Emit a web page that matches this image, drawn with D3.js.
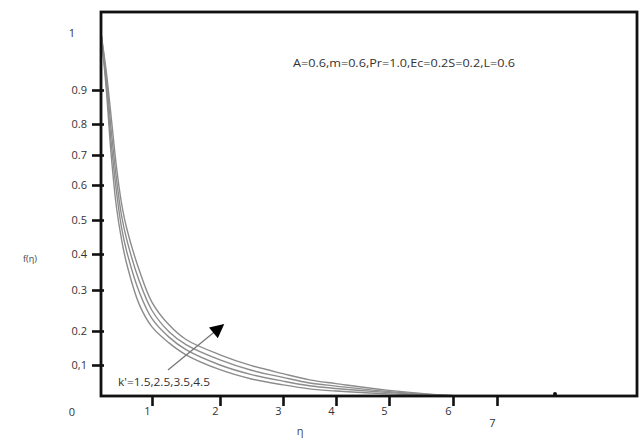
<!DOCTYPE html>
<html>
<head>
<meta charset="utf-8">
<script src="https://cdn.jsdelivr.net/npm/d3@7"></script>
<style>
  body { margin: 0; background: #fff; }
  .axis text { font-family: "Open Sans", sans-serif; fill: #333; }
  .axis line { stroke: #111; stroke-width: 2.6; }
</style>
</head>
<body>
<div class="chart"></div>
<script>
// values
const eta = [0, 0.1, 0.2, 0.3, 0.4, 0.5, 0.75, 1, 1.25, 1.5, 2, 2.5, 3, 3.5, 4, 5, 6, 6.5];
const kValues = [1.5, 2.5, 3.5, 4.5];
const f_k15 = [1, 0.905, 0.70, 0.54, 0.445, 0.375, 0.265, 0.21, 0.165, 0.13, 0.085, 0.055, 0.036, 0.023, 0.016, 0.007, 0.001, 0];
const f_k25 = [1, 0.915, 0.74, 0.585, 0.48, 0.41, 0.295, 0.23, 0.182, 0.145, 0.10, 0.069, 0.048, 0.033, 0.024, 0.011, 0.001, 0];
const f_k35 = [1, 0.925, 0.78, 0.625, 0.515, 0.445, 0.325, 0.25, 0.198, 0.16, 0.115, 0.083, 0.06, 0.042, 0.032, 0.014, 0.001, 0];
const f_k45 = [1, 0.935, 0.82, 0.665, 0.55, 0.478, 0.355, 0.27, 0.215, 0.175, 0.13, 0.098, 0.072, 0.052, 0.04, 0.018, 0.001, 0];
const series = [f_k15, f_k25, f_k35, f_k45];

const xTicks = [1, 2, 3, 4, 5, 6, 7];
const yTicks = [0.1, 0.2, 0.3, 0.4, 0.5, 0.6, 0.7, 0.8, 0.9];
const paramText = "A=0.6,m=0.6,Pr=1.0,Ec=0.2S=0.2,L=0.6";
const kText = "k'=1.5,2.5,3.5,4.5";

// margin convention
const margin = ({top: 12, right: 7, bottom: 42, left: 101});
const width = 644 - margin.left - margin.right;
const height = 438 - margin.top - margin.bottom;

const svg = d3.select(".chart")
    .append("svg")
    .attr("width", 644)
    .attr("height", 438)
    .append("g")
    .attr("transform", "translate(" + margin.left + "," + margin.top + ")");

// the original axes are hand spaced, so the scales are piecewise
const xScale = d3.scaleLinear()
    .domain([0, 1, 2, 3, 4, 5, 6, 7, 8])
    .range([0, 51, 119, 182, 235, 288, 352, 396, 454]);

const yScale = d3.scaleLinear()
    .domain([0, 0.1, 0.2, 0.3, 0.4, 0.5, 0.6, 0.7, 0.8, 0.9, 1])
    .range([height, 353, 319, 278, 242, 208, 173, 143, 112, 78, 21]);

// curves
const line = d3.line()
    .x(d => xScale(d[0]))
    .y(d => yScale(d[1]))
    .curve(d3.curveCatmullRom.alpha(0.5));

svg.selectAll(".curve")
    .data(series)
    .enter()
    .append("path")
    .attr("class", "curve")
    .attr("fill", "none")
    .attr("stroke", "#8c8c8c")
    .attr("stroke-width", 1.4)
    .attr("d", s => line(s.map((v, i) => [eta[i], v])));

// axes
const yAxis = d3.axisLeft(yScale)
    .tickValues(yTicks)
    .tickSize(12)
    .tickPadding(5)
    .tickFormat(d => d === 0.1 ? "0,1" : d3.format(".1f")(d));

let yAxisGroup = svg.append("g")
    .attr("class", "axis y-axis")
    .attr("transform", "translate(3,0)")
    .call(yAxis);
yAxisGroup.select(".domain").remove();
yAxisGroup.selectAll("text").attr("font-size", 11);

const xAxis = d3.axisBottom(xScale)
    .tickValues(xTicks)
    .tickSize(11)
    .tickPadding(0);

let xAxisGroup = svg.append("g")
    .attr("class", "axis x-axis")
    .attr("transform", `translate(0, ${height - 1})`)
    .call(xAxis);
xAxisGroup.select(".domain").remove();
xAxisGroup.selectAll("text")
    .attr("font-size", 11)
    .attr("dx", -5)
    .attr("dy", d => d === 7 ? "1.9em" : "0.8em");

// extra 0 and 1 labels without ticks
svg.append("text")
    .attr("x", -29).attr("y", yScale(1))
    .attr("dy", "0.35em")
    .attr("text-anchor", "middle")
    .attr("font-size", 11)
    .attr("font-family", "Open Sans, sans-serif")
    .attr("fill", "#333")
    .text("1");

svg.append("text")
    .attr("x", -29).attr("y", yScale(0) + 16)
    .attr("dy", "0.35em")
    .attr("text-anchor", "middle")
    .attr("font-size", 11)
    .attr("font-family", "Open Sans, sans-serif")
    .attr("fill", "#333")
    .text("0");

svg.append("circle")
    .attr("cx", xScale(8)).attr("cy", height - 2)
    .attr("r", 2).attr("fill", "#111");

// frame
svg.append("rect")
    .attr("x", 0).attr("y", 0)
    .attr("width", width).attr("height", height)
    .attr("fill", "none")
    .attr("stroke", "#111")
    .attr("stroke-width", 2.8);

// labels
svg.append("text")
    .attr("x", 199).attr("y", height + 39)
    .attr("text-anchor", "middle")
    .attr("font-size", 11)
    .attr("font-family", "Open Sans, sans-serif")
    .attr("fill", "#444")
    .text("η");

svg.append("text")
    .attr("x", -71).attr("y", 250)
    .attr("text-anchor", "middle")
    .attr("font-size", 9)
    .attr("font-family", "Open Sans, sans-serif")
    .attr("fill", "#444")
    .text("f(η)");

svg.append("text")
    .attr("x", 192).attr("y", 55)
    .attr("font-size", 11)
    .attr("font-family", "Open Sans, sans-serif")
    .attr("fill", "#333")
    .attr("textLength", 222)
    .attr("lengthAdjust", "spacingAndGlyphs")
    .text(paramText);

svg.append("text")
    .attr("x", 17).attr("y", 374)
    .attr("font-size", 11)
    .attr("font-family", "Open Sans, sans-serif")
    .attr("fill", "#333")
    .attr("textLength", 92)
    .attr("lengthAdjust", "spacingAndGlyphs")
    .text(kText);

// arrow pointing in the direction of increasing k'
svg.append("defs").append("marker")
    .attr("id", "head")
    .attr("viewBox", "0 0 10 10")
    .attr("refX", 9).attr("refY", 5)
    .attr("markerUnits", "userSpaceOnUse")
    .attr("markerWidth", 16).attr("markerHeight", 14)
    .attr("orient", "auto")
    .append("path")
    .attr("d", "M0,0L10,5L0,10Z")
    .attr("fill", "#000");

svg.append("line")
    .attr("x1", xScale(1.235)).attr("y1", yScale(0.084))
    .attr("x2", xScale(2.05)).attr("y2", yScale(0.215))
    .attr("stroke", "#777")
    .attr("stroke-width", 1.3)
    .attr("marker-end", "url(#head)");
</script>
</body>
</html>
